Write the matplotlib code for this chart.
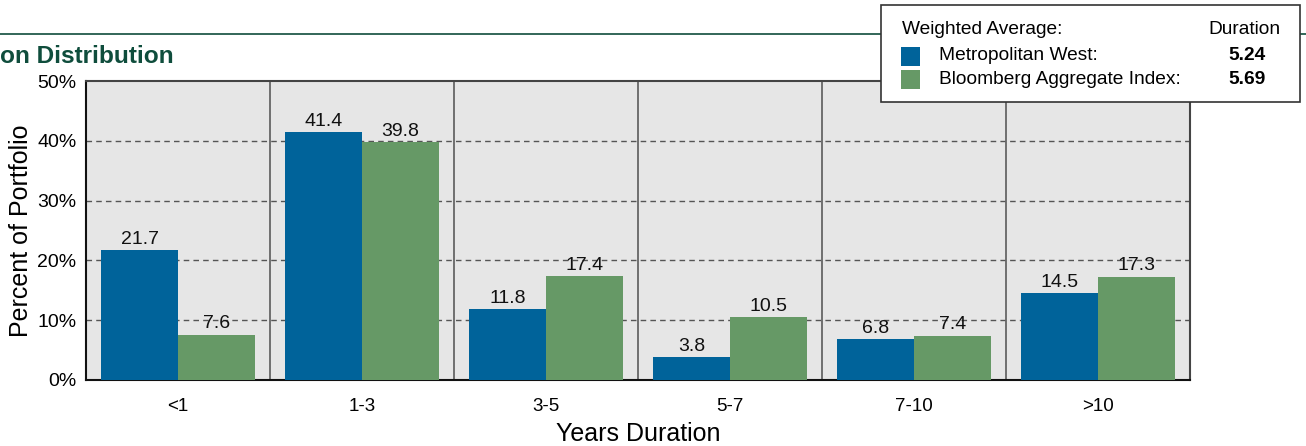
import numpy as np
import matplotlib.pyplot as plt
from matplotlib.patches import Rectangle
from matplotlib.lines import Line2D

plt.rcParams['font.family'] = ['Liberation Sans', 'DejaVu Sans']

# data
categories = ['<1', '1-3', '3-5', '5-7', '7-10', '>10']
metwest = [21.7, 41.4, 11.8, 3.8, 6.8, 14.5]
bloomberg = [7.6, 39.8, 17.4, 10.5, 7.4, 17.3]
series_names = ['Metropolitan West:', 'Bloomberg Aggregate Index:']
durations = ['5.24', '5.69']

blue = '#00639a'
green = '#669966'
dkgreen = '#0f4d3c'
W, H = 1306, 446

fig = plt.figure(figsize=(W / 100, H / 100), dpi=100)
ax = fig.add_axes([86 / W, 1 - 380 / H, (1190 - 86) / W, (380 - 81) / H])
ax.set_facecolor('#e6e6e6')

x = np.arange(len(categories))
bw = 0.418
b1 = ax.bar(x - bw / 2, metwest, bw, color=blue, zorder=3)
b2 = ax.bar(x + bw / 2, bloomberg, bw, color=green, zorder=3)
for bars, vals in ((b1, metwest), (b2, bloomberg)):
    for r, v in zip(bars, vals):
        ax.text(r.get_x() + r.get_width() / 2, v + 0.4, '%.1f' % v,
                ha='center', va='bottom', fontsize=14, color='#111111', zorder=4)

ax.set_xlim(-0.5, len(categories) - 0.5)
ax.set_ylim(0, 50)
ax.set_yticks(range(0, 51, 10))
ax.set_yticklabels(['%d%%' % v for v in range(0, 51, 10)], fontsize=14)
ax.set_xticks(x)
ax.set_xticklabels(categories, fontsize=13.5)
ax.tick_params(length=0, pad=7)
ax.tick_params(axis='x', pad=13)

for yv in range(10, 50, 10):
    ax.axhline(yv, color='#555555', lw=1, ls=(0, (4, 3)), zorder=1)
for xv in x[1:] - 0.5:
    ax.axvline(xv, color='#666666', lw=1.3, zorder=1)

for s in ['left', 'bottom']:
    ax.spines[s].set_color('#111111')
    ax.spines[s].set_linewidth(1.5)
for s in ['top', 'right']:
    ax.spines[s].set_color('#444444')
    ax.spines[s].set_linewidth(1.5)

ax.set_ylabel('Percent of Portfolio', fontsize=18, labelpad=3)
fig.text(638 / W, 1 - 434 / H, 'Years Duration', ha='center', va='center', fontsize=18)

# header line and title (left part cut off in the source)
fig.add_artist(Line2D([0, 1], [1 - 34 / H, 1 - 34 / H], color=dkgreen, lw=1.2))
fig.text(0, 1 - 63 / H, 'on Distribution', ha='left', va='baseline',
         fontsize=17.6, fontweight='bold', color=dkgreen)

# weighted average box
fig.add_artist(Rectangle((881 / W, 1 - 102 / H), (1300 - 881) / W, 97 / H,
                         facecolor='white', edgecolor='#333333', lw=1.2, zorder=5))
fig.text(902 / W, 1 - 29 / H, 'Weighted Average:', ha='left', va='center', fontsize=13.8, zorder=6)
fig.text(1281 / W, 1 - 29 / H, 'Duration', ha='right', va='center', fontsize=13.8, zorder=6)
for i, (name, d, c) in enumerate(zip(series_names, durations, [blue, green])):
    yc = 56 + i * 23
    fig.add_artist(Rectangle((901 / W, 1 - (yc + 10) / H), 19 / W, 19 / H,
                             facecolor=c, edgecolor='none', zorder=6))
    fig.text(939 / W, 1 - yc / H, name, ha='left', va='center', fontsize=13.8, zorder=6)
    fig.text(1266 / W, 1 - yc / H, d, ha='right', va='center', fontsize=13.8,
             fontweight='bold', zorder=6)

fig.savefig('out.png', dpi=100)
